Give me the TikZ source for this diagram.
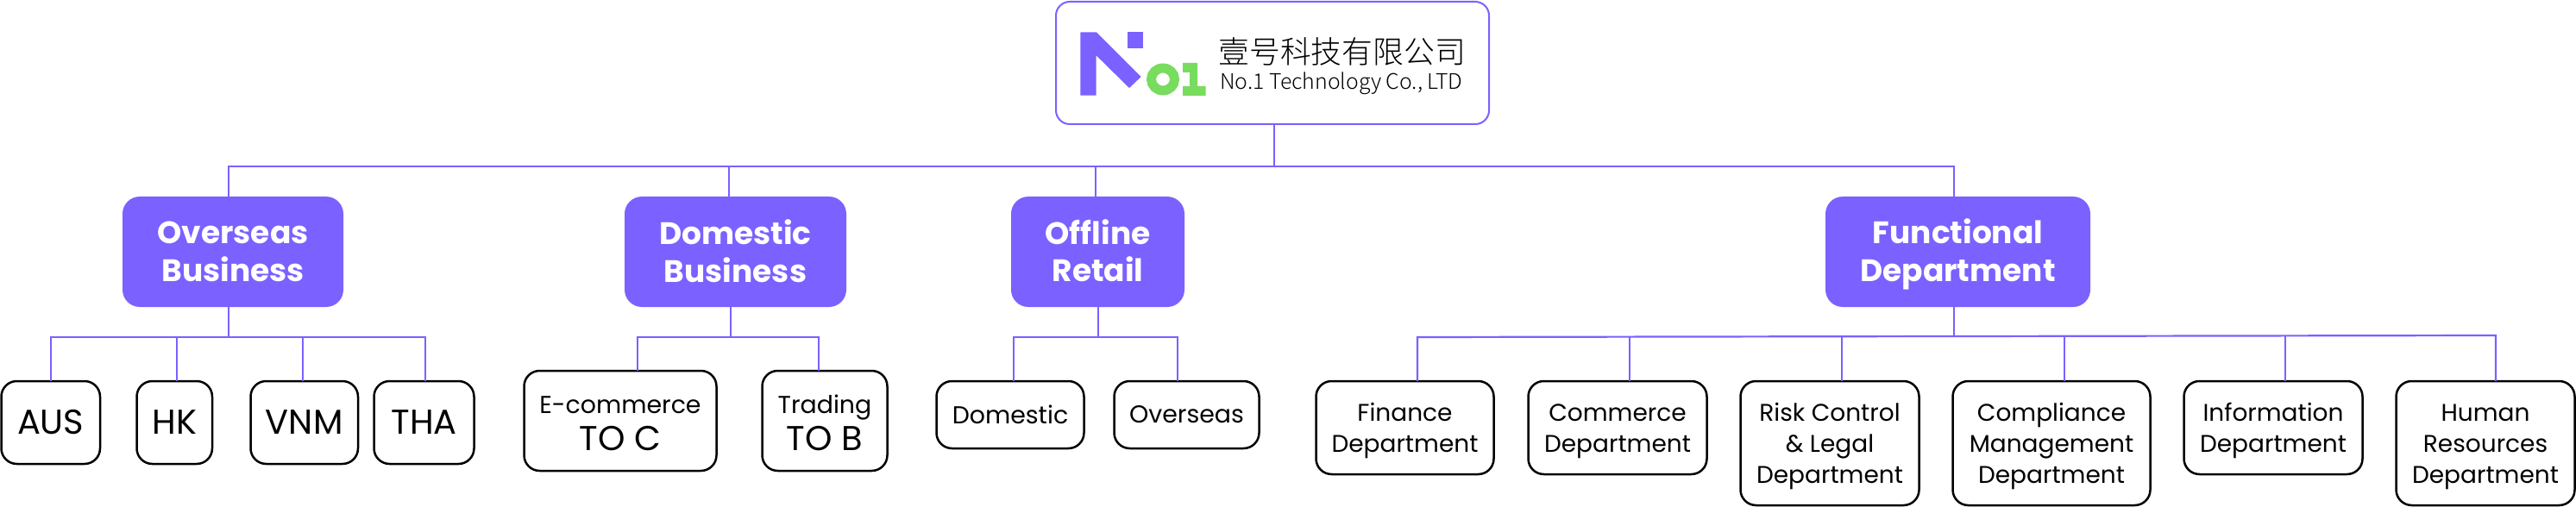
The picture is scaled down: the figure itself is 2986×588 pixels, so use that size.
\documentclass[tikz,border=0pt]{standalone}
\usepackage{fontspec}
\setmainfont{Poppins}
\newfontfamily\cjkfont{Noto Sans CJK SC Light}
\definecolor{brand}{HTML}{7B61FF}
\definecolor{brandgreen}{HTML}{78DC5E}
\newcommand\bx[7][]{\node[#2,#1,minimum width={(#5-#3)*0.5pt},minimum height={(#6-#4)*0.5pt}] (#7) at ({(#3+#5)/2},{(#4+#6)/2})}
\newcommand\dn[2]{\raisebox{-#1}[\height][\depth]{\begin{tabular}{@{}c@{}}#2\end{tabular}}}
\tikzset{
  lvlA/.style={rectangle,rounded corners=10pt,fill=brand,text=white,inner sep=0pt,outer sep=0pt,align=center,font=\fontsize{18}{22}\selectfont\bfseries},
  rootbox/.style={rectangle,rounded corners=8pt,draw=brand,line width=1pt,inner sep=0pt,outer sep=0pt},
  leaf/.style={rectangle,rounded corners=9pt,draw=black,line width=1.25pt,inner sep=0pt,outer sep=0pt,align=center,font=\fontsize{14}{18}\selectfont},
  bigleaf/.style={leaf,font=\fontsize{20}{24}\selectfont},
  midleaf/.style={leaf,font=\fontsize{14.2}{18}\selectfont},
  link/.style={draw=brand,line width=1.1pt},
}
\begin{document}
\begin{tikzpicture}[x=0.5pt,y=-0.5pt]
\useasboundingbox (0,0) rectangle (2986,588);
% top
\bx{rootbox}{1224}{2}{1726}{144}{root}{};
\fill[brand] (1252.3,37.3) -- (1271,37.3) -- (1322.7,89) -- (1309,102) -- (1270.7,64.3) -- (1270.7,110.7) -- (1252.3,110.7) -- cycle;
\fill[brand] (1306.7,37.3) rectangle (1325.3,56);
\draw[brandgreen,line width=5.5pt] (1348,92) ellipse (13.5 and 13);
\fill[brandgreen] (1371,73) -- (1388,73) -- (1388,100) -- (1397.5,100) -- (1397.5,111) -- (1371,111) -- (1371,100) -- (1379,100) -- (1379,84) -- (1371,84) -- cycle;
\node[inner sep=0pt,anchor=west] (cn) at (1412,60) {\cjkfont\fontsize{17.9}{20}\selectfont 壹号科技有限公司};
\node[inner sep=0pt,anchor=west] (en) at (1414,97) {\cjkfont\fontsize{12.4}{16}\selectfont No.1 Technology Co., LTD};
% level 1
\bx{lvlA}{142}{228}{398}{356}{over}{Overseas\\Business};
\bx{lvlA}{724}{228}{981}{356}{dom}{\dn{2.4pt}{Domestic\\Business}};
\bx{lvlA}{1172}{228}{1373}{356}{off}{\dn{2pt}{Offline\\[-0.5pt]Retail}};
\bx{lvlA}{2116}{228}{2423}{356}{func}{\dn{1.8pt}{Functional\\Department}};
% leaves
\bx{bigleaf}{1.5}{442}{116}{538}{aus}{AUS};
\bx{bigleaf}{158.5}{442}{246}{538}{hk}{HK};
\bx{bigleaf}{290.5}{442}{415}{538}{vnm}{VNM};
\bx{bigleaf}{433.5}{442}{549.5}{538}{tha}{THA};
\bx{leaf}{607.5}{430}{830.5}{546}{ecom}{\dn{3pt}{\fontsize{14.2}{18}\selectfont E-commerce\\[2pt]\fontsize{20}{21}\selectfont TO C}};
\bx{leaf}{883.5}{430}{1028.5}{546}{trad}{\dn{3pt}{\fontsize{14.2}{18}\selectfont Trading\\[2pt]\fontsize{20}{21}\selectfont TO B}};
\bx{midleaf}{1085.5}{442}{1256.5}{520}{ldom}{Domestic};
\bx{midleaf}{1291.5}{442}{1459.5}{520}{lover}{Overseas};
\bx{leaf}{1525.5}{442}{1731.5}{550}{fin}{\dn{1.5pt}{Finance\\Department}};
\bx{leaf}{1771.5}{442}{1978.5}{550}{comm}{\dn{1.5pt}{Commerce\\Department}};
\bx{leaf}{2017.5}{442}{2224.5}{586}{risk}{\dn{1.5pt}{Risk Control\\\& Legal\\Department}};
\bx{leaf}{2263.5}{442}{2492.5}{586}{compl}{\dn{1.5pt}{Compliance\\Management\\Department}};
\bx{leaf}{2531.5}{442}{2738.5}{550}{info}{\dn{1.5pt}{Information\\Department}};
\bx{leaf}{2777.5}{442}{2984.5}{586}{hr}{\dn{1.5pt}{Human\\Resources\\Department}};
% top bus
\coordinate (tl) at (265,193);
\coordinate (tr) at (2265,193);
\coordinate (rootdrop) at (1477,193);
\coordinate (domtop) at (845,193);
\coordinate (offtop) at (1270,193);
\draw[link] (rootdrop |- root.south) -- (rootdrop);
\draw[link] (over.north -| tl) -- (tl) -- (tr) -- (func.north -| tr);
\draw[link] (domtop) -- (dom.north -| domtop);
\draw[link] (offtop) -- (off.north -| offtop);
% overseas bus
\coordinate (oa) at (59,391);\coordinate (ob) at (205,391);\coordinate (oc) at (351,391);\coordinate (od) at (493,391);\coordinate (os) at (265,391);
\draw[link] (over.south -| os) -- (os);
\draw[link] (aus.north -| oa) -- (oa) -- (od) -- (tha.north -| od);
\draw[link] (ob) -- (hk.north -| ob);
\draw[link] (oc) -- (vnm.north -| oc);
% domestic bus
\coordinate (da) at (739,391);\coordinate (db) at (949,391);\coordinate (ds) at (847,391);
\draw[link] (dom.south -| ds) -- (ds);
\draw[link] (ecom.north -| da) -- (da) -- (db) -- (trad.north -| db);
% offline bus
\coordinate (fa) at (1175,391);\coordinate (fb) at (1365,391);\coordinate (fs) at (1273,391);
\draw[link] (off.south -| fs) -- (fs);
\draw[link] (ldom.north -| fa) -- (fa) -- (fb) -- (lover.north -| fb);
% functional bus
\coordinate (ga) at (1643,391);\coordinate (gb) at (1889,390.6);\coordinate (gc) at (2135,390.2);\coordinate (gs) at (2265,390);\coordinate (gd) at (2393,389.8);\coordinate (ge) at (2649,389.4);\coordinate (gf) at (2893,389);
\draw[link] (func.south -| gs) -- (gs);
\draw[link] (fin.north -| ga) -- (ga) -- (gf) -- (hr.north -| gf);
\draw[link] (gb) -- (comm.north -| gb);
\draw[link] (gc) -- (risk.north -| gc);
\draw[link] (gd) -- (compl.north -| gd);
\draw[link] (ge) -- (info.north -| ge);
\end{tikzpicture}
\end{document}
